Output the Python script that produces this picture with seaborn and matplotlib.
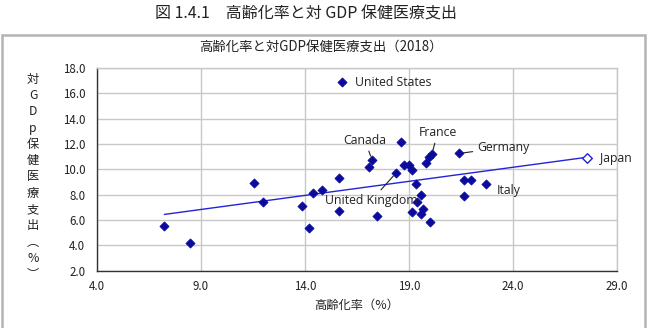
import matplotlib
matplotlib.use("Agg")
import matplotlib.pyplot as plt
import seaborn as sns
import pandas as pd
from matplotlib.patches import Rectangle

sns.set_theme(style="white")
plt.rcParams['font.family'] = ['Noto Sans CJK JP', 'DejaVu Sans']

# Data: aging rate (%) vs health expenditure as % of GDP (2018)
aging = [7.24, 8.47, 11.53, 11.97, 13.87, 14.18, 14.40, 14.80, 15.65, 15.65,
         15.80, 17.06, 17.22, 17.48, 18.39, 18.62, 18.76, 18.99, 19.15, 19.36,
         19.58, 19.40, 19.15, 19.69, 19.58, 20.01, 19.80, 19.95, 20.10, 21.42,
         21.66, 21.97, 22.72, 21.63, 27.56]
health = [5.49, 4.15, 8.92, 7.42, 7.07, 5.39, 8.13, 8.33, 9.33, 6.73,
          16.86, 10.18, 10.73, 6.28, 9.73, 12.12, 10.36, 10.36, 9.91, 8.84,
          7.97, 7.44, 6.63, 6.83, 6.44, 5.84, 10.46, 10.95, 11.20, 11.25,
          9.12, 9.12, 8.84, 7.89, 10.89]
country = ["", "", "", "", "", "", "", "", "", "",
           "United States", "", "Canada", "", "United Kingdom", "", "", "", "", "",
           "", "", "", "", "", "", "", "", "France", "Germany",
           "", "", "Italy", "", "Japan"]

xticks = [4.0, 9.0, 14.0, 19.0, 24.0, 29.0]
yticks = [2.0, 4.0, 6.0, 8.0, 10.0, 12.0, 14.0, 16.0, 18.0]

df = pd.DataFrame({"aging": aging, "health": health, "country": country})
others = df[df.country != "Japan"]
japan = df[df.country == "Japan"]

W, H = 648, 328
fig = plt.figure(figsize=(6.48, 3.28), dpi=100)
ax = fig.add_axes([97 / W, 1 - 270.5 / H, 520 / W, 202.5 / H])

mcol = "#0a0a9e"
sns.regplot(data=df, x="aging", y="health", scatter=False, ci=None, truncate=True,
            ax=ax, line_kws=dict(color="#2323d8", lw=1.0, zorder=2))
sns.scatterplot(data=others, x="aging", y="health", marker="D", s=22, color=mcol,
                edgecolor=mcol, linewidth=0.5, ax=ax, zorder=3)
sns.scatterplot(data=japan, x="aging", y="health", marker="D", s=24, facecolor="white",
                edgecolor="#2323d8", linewidth=1.0, ax=ax, zorder=4)

ax.set_xlim(xticks[0], xticks[-1])
ax.set_ylim(yticks[0], yticks[-1])
ax.set_xticks(xticks)
ax.set_yticks(yticks)
ax.set_xticklabels([f"{v:.1f}" for v in xticks])
ax.set_yticklabels([f"{v:.1f}" for v in yticks])
ax.tick_params(axis="both", labelsize=8.3, colors="#222222", direction="in", length=3,
               width=0.8)
ax.tick_params(axis="y", pad=8.5)
ax.tick_params(axis="x", pad=6.5)
ax.grid(True, color="#c8c8c8", lw=1.0)
ax.set_axisbelow(True)
for s in ["top", "right"]:
    ax.spines[s].set_color("#c8c8c8")
    ax.spines[s].set_linewidth(1.0)
for s in ["left", "bottom"]:
    ax.spines[s].set_color("#333333")
    ax.spines[s].set_linewidth(1.0)
ax.set_xlabel("")
ax.set_ylabel("")

# labels (offsets in pixels)
label_style = dict(fontsize=8.8, color="#222222", family=["Open Sans", "DejaVu Sans"])
offsets = {
    "United States": ((13, 0), "left", None),
    "Canada": ((-7, 20), "center", True),
    "France": ((6, 22), "center", True),
    "Germany": ((18, 6), "left", True),
    "Japan": ((13, -1), "left", None),
    "Italy": ((10, -7), "left", None),
    "United Kingdom": ((-25, -28), "center", True),
}
for _, r in df[df.country != ""].iterrows():
    (dx, dy), ha, arrow = offsets[r.country]
    kw = {}
    if arrow:
        kw["arrowprops"] = dict(arrowstyle="-", color="#222222", lw=0.8,
                                shrinkA=1, shrinkB=3)
    ax.annotate(r.country, (r.aging, r.health), xytext=(dx, dy),
                textcoords="offset pixels", ha=ha, va="center", **label_style, **kw)

# frame box
fig.patches.append(Rectangle((2 / W, -0.1), 643 / W, 0.1 + 1 - 35 / H,
                             transform=fig.transFigure, fill=False,
                             edgecolor="#b4b4b4", lw=1.8))

fig.text(306 / W, 1 - 14 / H, "図 1.4.1　高齢化率と対 GDP 保健医療支出",
         ha="center", va="center", fontsize=11.5, color="#222222")
fig.text(321 / W, 1 - 47 / H, "高齢化率と対GDP保健医療支出（2018）",
         ha="center", va="center", fontsize=9.6, color="#222222")
fig.text(357 / W, 1 - 305 / H, "高齢化率（%）",
         ha="center", va="center", fontsize=8.8, color="#222222")
ylab = "対GDp保健医療支出︵%︶"
fig.text(33 / W, 1 - 177 / H, "\n".join(ylab), ha="center", va="center",
         fontsize=8.8, color="#222222", linespacing=1.33)

fig.savefig("out.png", dpi=100)
